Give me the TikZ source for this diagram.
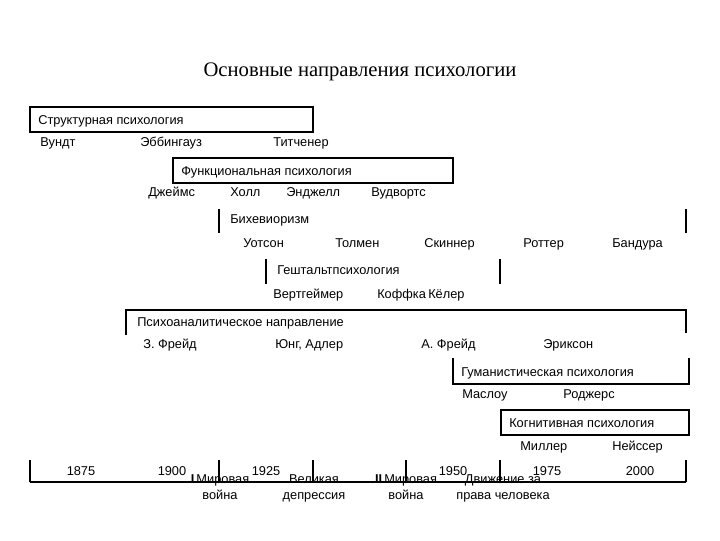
\documentclass[tikz,border=0pt]{standalone}
\usepackage{fontspec}
\setmainfont{Liberation Sans}
\newfontfamily\serifit{Liberation Serif}
\begin{document}
\begin{tikzpicture}[x=0.75pt,y=-0.75pt,
  lbl/.style={anchor=base west,inner sep=0pt,yshift=-3.5pt,font=\fontsize{9.6}{12}\selectfont},
  ctr/.style={anchor=base,inner sep=0pt,font=\fontsize{9.6}{11.5}\selectfont,align=center},
  ln/.style={line width=0.8pt}]
\useasboundingbox (0,0) rectangle (720,540);
\node[font=\serifit\fontsize{15.5}{18}\selectfont] (title) at (360,72) {Основные направления психологии};
% Structural
\draw[ln] (30,107) rectangle (313,132);
\node[lbl] (s) at (38,120) {Структурная психология};
\node[lbl] (s1) at (40,142) {Вундт};
\node[lbl] (s2) at (140,142) {Эббингауз};
\node[lbl] (s3) at (273,142) {Титченер};
% Functional
\draw[ln] (173,158) rectangle (453,183);
\node[lbl] (f) at (181,171) {Функциональная психология};
\node[lbl] (f1) at (148,192) {Джеймс};
\node[lbl] (f2) at (230,192) {Холл};
\node[lbl] (f3) at (286,192) {Энджелл};
\node[lbl] (f4) at (371,192) {Вудвортс};
% Behaviorism
\draw[ln] (219,209) -- (219,233);
\draw[ln] (686,209) -- (686,233);
\node[lbl] (b) at (230,219) {Бихевиоризм};
\node[lbl] (b1) at (243,243) {Уотсон};
\node[lbl] (b2) at (335,243) {Толмен};
\node[lbl] (b3) at (424,243) {Скиннер};
\node[lbl] (b4) at (523,243) {Роттер};
\node[lbl] (b5) at (612,243) {Бандура};
% Gestalt
\draw[ln] (266,259) -- (266,284);
\draw[ln] (500,259) -- (500,284);
\node[lbl] (g) at (277,270) {Гештальтпсихология};
\node[lbl] (g1) at (273,294) {Вертгеймер};
\node[lbl] (g2) at (377,294) {Коффка};
\node[lbl] (g3) at (428,294) {Кёлер};
% Psychoanalysis
\draw[ln] (126,335) -- (126,310) -- (686,310) -- (686,333);
\node[lbl] (p) at (137,322) {Психоаналитическое направление};
\node[lbl] (p1) at (143,344) {З. Фрейд};
\node[lbl] (p2) at (275,344) {Юнг, Адлер};
\node[lbl] (p3) at (421,344) {А. Фрейд};
\node[lbl] (p4) at (543,344) {Эриксон};
% Humanistic
\draw[ln] (453,358) -- (453,384) -- (689,384) -- (689,358);
\node[lbl] (h) at (461,372) {Гуманистическая психология};
\node[lbl] (h1) at (462,394) {Маслоу};
\node[lbl] (h2) at (563,394) {Роджерс};
% Cognitive
\draw[ln] (501,410) rectangle (689,435);
\node[lbl] (c) at (509,423) {Когнитивная психология};
\node[lbl] (c1) at (520,446) {Миллер};
\node[lbl] (c2) at (612,446) {Нейссер};
% Timeline
\draw[ln] (30,482) -- (686,482);
\foreach \x in {30,219,313,406,500,686} \draw[ln] (\x,460) -- (\x,482);
\node[ctr] (y1) at (81,475) {1875};
\node[ctr] (y2) at (172,475) {1900};
\node[ctr] (y3) at (266,475) {1925};
\node[ctr] (y4) at (453,475) {1950};
\node[ctr] (y5) at (547,475) {1975};
\node[ctr] (y6) at (640,475) {2000};
\node[ctr] (e1) at (220,499) {\textbf{I}\,Мировая\\война};
\node[ctr] (e2) at (314,499) {Великая\\депрессия};
\node[ctr] (e3) at (406,499) {\textbf{II}\,Мировая\\война};
\node[ctr] (e4) at (503,499) {Движение за\\права человека};
\end{tikzpicture}
\end{document}
